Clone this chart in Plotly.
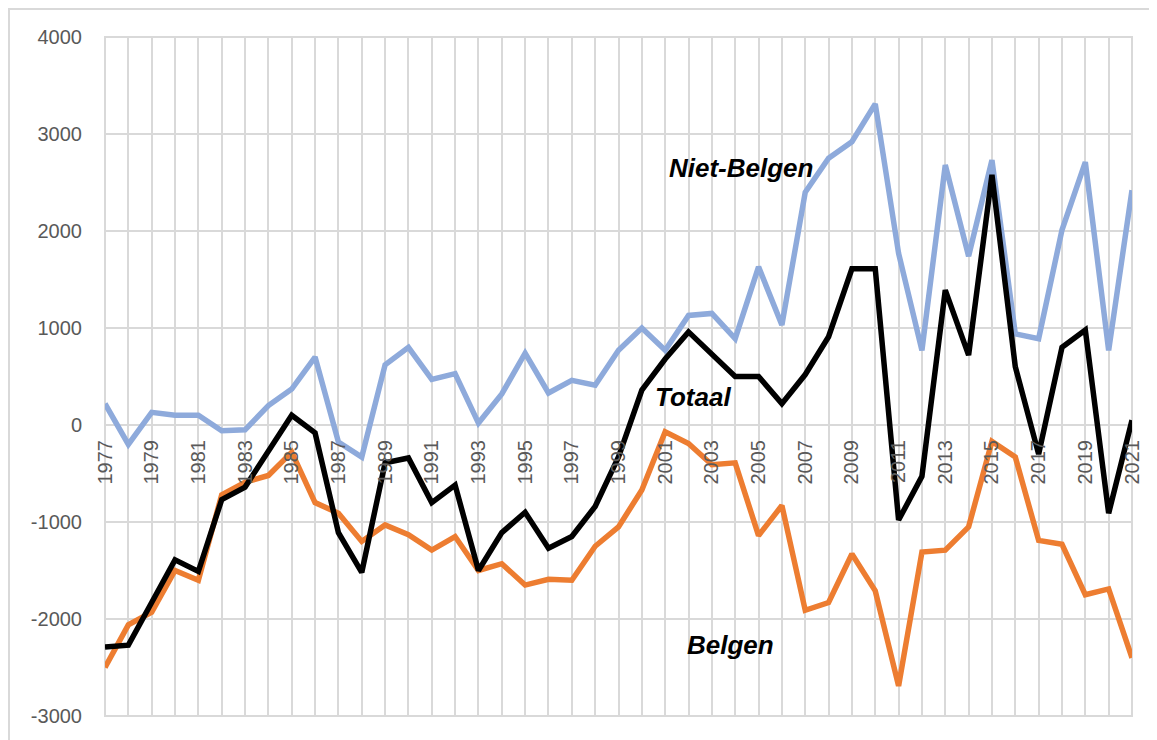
import plotly.graph_objects as go

years = list(range(1977, 2022))

niet_belgen = [220, -200, 130, 100, 100, -60, -50, 200, 370, 700,
               -175, -330, 620, 800, 470, 530, 20, 320, 740, 330,
               460, 410, 770, 1000, 770, 1130, 1150, 890, 1630, 1030,
               2400, 2750, 2920, 3310, 1770, 770, 2680, 1740, 2730, 940,
               890, 2010, 2710, 770, 2420]

totaal = [-2290, -2270, -1830, -1390, -1510, -770, -640, -260, 100, -80,
          -1110, -1520, -390, -340, -800, -620, -1500, -1110, -900, -1270,
          -1150, -840, -330, 360, 680, 960, 720, 500, 500, 220,
          520, 910, 1610, 1610, -980, -530, 1390, 720, 2580, 600,
          -300, 800, 980, -910, 50]

belgen = [-2500, -2060, -1930, -1500, -1600, -720, -590, -520, -280, -800,
          -910, -1200, -1030, -1130, -1290, -1150, -1500, -1430, -1650, -1590,
          -1600, -1250, -1050, -670, -70, -190, -410, -390, -1140, -830,
          -1910, -1830, -1330, -1710, -2690, -1310, -1290, -1050, -170, -330,
          -1190, -1230, -1750, -1690, -2400]

x_tick_text = [str(y) if (y - 1977) % 2 == 0 else "" for y in years]
y_tick_vals = [-3000, -2000, -1000, 0, 1000, 2000, 3000, 4000]
y_tick_text = ["-3000", "-2000", "-1000", "0", "1000", "2000", "3000", "4000"]

fig = go.Figure()
fig.add_trace(go.Scatter(x=years, y=niet_belgen, mode="lines", name="Niet-Belgen",
                         line=dict(color="#8eaadb", width=5.5)))
fig.add_trace(go.Scatter(x=years, y=belgen, mode="lines", name="Belgen",
                         line=dict(color="#ed7d31", width=5.5)))
fig.add_trace(go.Scatter(x=years, y=totaal, mode="lines", name="Totaal",
                         line=dict(color="#000000", width=5.5)))

lab_font = dict(family="Liberation Sans", size=26, color="black")
for txt, x, y in [("Niet-Belgen", 2004.25, 2650), ("Totaal", 2002.2, 290), ("Belgen", 2003.8, -2265)]:
    fig.add_annotation(x=x, y=y, text="<b><i>" + txt + "</i></b>", showarrow=False,
                       font=lab_font, xanchor="center", yanchor="middle")

grid = "#d9d9d9"
fig.update_layout(
    width=1157, height=740,
    margin=dict(l=97, r=33, t=29, b=32),
    paper_bgcolor="white", plot_bgcolor="white",
    showlegend=False,
    xaxis=dict(
        range=[1977, 2021], tickmode="array", tickvals=years, ticktext=x_tick_text,
        tickangle=-90, showgrid=True, gridcolor=grid, gridwidth=2,
        zeroline=False, showline=False,
        anchor="free", position=(708 - 417) / 679,
        ticks="outside", ticklen=6, tickcolor="rgba(0,0,0,0)",
        tickfont=dict(family="Liberation Sans", size=20, color="#595959"),
    ),
    yaxis=dict(
        range=[-3000, 4000], tickmode="array", tickvals=y_tick_vals, ticktext=y_tick_text,
        showgrid=True, gridcolor=grid, gridwidth=2,
        zeroline=False, showline=False, ticks="outside", ticklen=18,
        tickcolor="rgba(0,0,0,0)",
        tickfont=dict(family="Liberation Sans", size=20, color="#595959"),
    ),
)

# plot area border and outer chart frame
fig.add_shape(type="rect", xref="paper", yref="paper", x0=0, x1=1, y0=0, y1=1,
              line=dict(color=grid, width=2), layer="below")
fig.add_shape(type="rect", xref="paper", yref="paper", x0=-96 / 1027, x1=1.1,
              y0=-0.1, y1=1 + 28 / 679, line=dict(color=grid, width=2))

fig.write_html("out.html")
